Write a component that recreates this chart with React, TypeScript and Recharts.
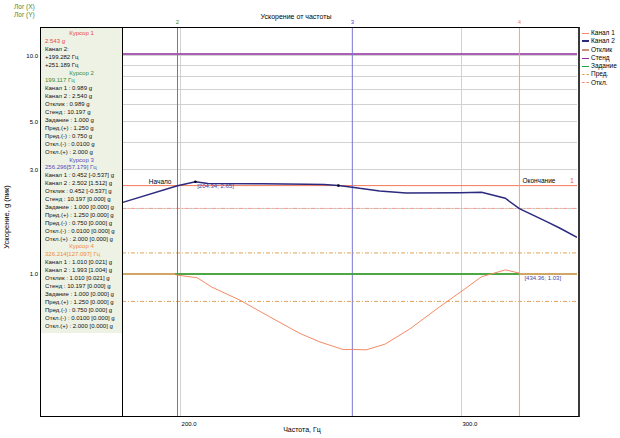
import React from "react";
import {
  ComposedChart, Line, XAxis, YAxis, ReferenceLine, ReferenceDot,
} from "recharts";

// частоты и ускорения
const ch2Freq = [184.0, 199.117, 204.34, 208, 225, 240, 246, 251.189, 256.296, 259.0, 266.6, 277.0, 299.3, 308.9, 319.6, 326.214, 339.3, 345.7, 354.5];
const ch2G = [2.13, 2.54, 2.65, 2.6, 2.59, 2.58, 2.57, 2.543, 2.502, 2.47, 2.4, 2.35, 2.36, 2.37, 2.225, 1.993, 1.738, 1.626, 1.474];

const ch1Freq = [198.4, 199.117, 204.9, 209.1, 217.9, 227.5, 237.6, 244.6, 252.9, 256.296, 261.5, 268.7, 278.4, 290.7, 300.8, 308.8, 319.7, 326.214];
const ch1G = [0.995, 0.989, 0.962, 0.874, 0.76, 0.637, 0.535, 0.489, 0.4515, 0.452, 0.45, 0.478, 0.56, 0.708, 0.845, 0.972, 1.046, 1.01];

const targetFreq = [198.4, 326.214];
const targetG = [1.0, 1.0];

const standG = 10.197;
const responseLevel = 1.0;
const limitG = [1.25, 0.75];
const abortG = [2.0, 0.01];

const cursorFreq = [199.117, 256.296, 326.214];
const cursorNames = ["2", "3", "4"];
const cursor1G = 2.543;

const xTicks = [200, 300];
const yTicks = [1, 3, 5, 10];
const gridX = [200, 300];
const gridY = [2, 3, 4, 5, 6, 7, 8, 9, 10];

const peakPoint = { f: 204.34, g: 2.65, text: "[204.34; 2.65]" };
const crossPoint = { f: 251.189, g: 2.543 };
const endPoint = { f: 326.214, g: 1.01, text: "[434.36; 1.03]" };

const cursorBlocks = [
  {
    title: "Курсор 1", color: "#e8463c",
    head: "2.543 g",
    lines: ["Канал 2:", " +199.282 Гц", " +251.189 Гц"],
  },
  {
    title: "Курсор 2", color: "#2e8b46",
    head: "199.117 Гц",
    lines: ["Канал 1 : 0.989 g", "Канал 2 : 2.540 g", "Отклик : 0.989 g", "Стенд : 10.197 g", "Задание : 1.000 g", "Пред.(+) : 1.250 g", "Пред.(-) : 0.750 g", "Откл.(-) : 0.0100 g", "Откл.(+) : 2.000 g"],
  },
  {
    title: "Курсор 3", color: "#5548c0",
    head: "256.296[57.179] Гц",
    lines: ["Канал 1 : 0.452 [-0.537] g", "Канал 2 : 2.502 [1.512] g", "Отклик : 0.452 [-0.537] g", "Стенд : 10.197 [0.000] g", "Задание : 1.000 [0.000] g", "Пред.(+) : 1.250 [0.000] g", "Пред.(-) : 0.750 [0.000] g", "Откл.(-) : 0.0100 [0.000] g", "Откл.(+) : 2.000 [0.000] g"],
  },
  {
    title: "Курсор 4", color: "#f08a3c",
    head: "326.214[127.097] Гц",
    lines: ["Канал 1 : 1.010 [0.021] g", "Канал 2 : 1.993 [1.004] g", "Отклик : 1.010 [0.021] g", "Стенд : 10.197 [0.000] g", "Задание : 1.000 [0.000] g", "Пред.(+) : 1.250 [0.000] g", "Пред.(-) : 0.750 [0.000] g", "Откл.(-) : 0.0100 [0.000] g", "Откл.(+) : 2.000 [0.000] g"],
  },
];

const legendItems = [
  { name: "Канал 1", color: "#f48a66", width: 1, dash: false },
  { name: "Канал 2", color: "#2b2a7e", width: 2, dash: false },
  { name: "Отклик", color: "#c8907c", width: 2, dash: false },
  { name: "Стенд", color: "#8e2b9c", width: 1.5, dash: false },
  { name: "Задание", color: "#22a83a", width: 1.5, dash: false },
  { name: "Пред.", color: "#e0a458", width: 1, dash: true },
  { name: "Откл.", color: "#f49070", width: 1, dash: true },
];

const ch2Data = ch2Freq.map((f, i) => ({ f, g: ch2G[i] }));
const ch1Data = ch1Freq.map((f, i) => ({ f, g: ch1G[i] }));
const targetData = targetFreq.map((f, i) => ({ f, g: targetG[i] }));

const FONT = "'Liberation Sans', Arial, sans-serif";
const cursorColors = ["#4a9a5a", "#7b78d0", "#f4a080"];
const cursorLabelColors = ["#2e8b46", "#5548c0", "#f08a3c"];

const XTick = (props: any) => {
  const { x, y, payload } = props;
  return (
    <text x={x + 1} y={y + 10} fontSize={6} fontFamily={FONT} fill="#000" textAnchor="start">
      {payload.value.toFixed(1)}
    </text>
  );
};

const App = () => {
  return (
    <div style={{ position: "absolute", left: 0, top: 0, width: 620, height: 438, background: "#fff", fontFamily: FONT }}>
      <div style={{ position: "absolute", left: 0, top: 0 }}>
        <ComposedChart width={620} height={438} margin={{ top: 27, right: 43, bottom: 2, left: 11 }}>
          <XAxis
            type="number" dataKey="f" scale="log" domain={[163.5, 354.5]} allowDataOverflow
            ticks={xTicks} tick={<XTick />} tickLine={false} axisLine={false} height={20}
            tickSize={0} tickMargin={0}
          />
          <YAxis
            type="number" dataKey="g" scale="log" domain={[0.224, 13.54]} allowDataOverflow
            ticks={yTicks} tickFormatter={(v: number) => v.toFixed(1)} tickLine={false} axisLine={false}
            width={30} tickSize={0} tickMargin={3}
            tick={{ fontSize: 6, fill: "#000", fontFamily: FONT }}
          />
          {gridY.map((v) => (
            <ReferenceLine key={"gy" + v} y={v} stroke="#d2d2d2" strokeWidth={1} shapeRendering="crispEdges" />
          ))}
          {gridX.map((v) => (
            <ReferenceLine key={"gx" + v} x={v} stroke="#d2d2d2" strokeWidth={1} shapeRendering="crispEdges" />
          ))}
          <ReferenceLine y={standG} stroke="#8e2b9c" strokeWidth={1.5} />
          {limitG.map((v) => (
            <ReferenceLine key={"l" + v} y={v} stroke="#e0a458" strokeWidth={1} strokeDasharray="4 2 1 2" />
          ))}
          {abortG.map((v) => (
            <ReferenceLine key={"a" + v} y={v} stroke="#f4a088" strokeWidth={1} strokeDasharray="4 2 1 2" />
          ))}
          <ReferenceLine y={responseLevel} stroke="#c08a30" strokeWidth={1.5} />
          <ReferenceLine
            y={cursor1G} stroke="#f47a58" strokeWidth={1}
            label={(p: any) => (
              <text x={p.viewBox.x + p.viewBox.width - 3} y={p.viewBox.y - 3} fontSize={7} fontFamily={FONT} fill="#f05a30" textAnchor="end">1</text>
            )}
          />
          {cursorFreq.map((f, i) => (
            <ReferenceLine
              key={"c" + i} x={f} stroke={cursorColors[i]} strokeWidth={1}
              label={(p: any) => (
                <text x={p.viewBox.x} y={p.viewBox.y - 3} fontSize={6} fontFamily={FONT} fill={cursorLabelColors[i]} textAnchor="middle">{cursorNames[i]}</text>
              )}
            />
          ))}
          <Line data={targetData} dataKey="g" type="linear" stroke="#22a83a" strokeWidth={1.5} dot={false} isAnimationActive={false} />
          <Line data={ch1Data} dataKey="g" type="linear" stroke="#f48a66" strokeWidth={1} dot={false} isAnimationActive={false} />
          <Line data={ch2Data} dataKey="g" type="linear" stroke="#2b2a7e" strokeWidth={1.5} dot={false} isAnimationActive={false} />
          <ReferenceDot
            x={cursorFreq[0]} y={cursor1G} r={0} stroke="none"
            label={(p: any) => (
              <text x={p.viewBox.x - 6} y={p.viewBox.y - 2} fontSize={6.5} fontFamily={FONT} fill="#000" textAnchor="end">Начало</text>
            )}
          />
          <ReferenceDot
            x={cursorFreq[2]} y={cursor1G} r={0} stroke="none"
            label={(p: any) => (
              <text x={p.viewBox.x + 3} y={p.viewBox.y - 3} fontSize={6.5} fontFamily={FONT} fill="#000" textAnchor="start">Окончание</text>
            )}
          />
          <ReferenceDot
            x={peakPoint.f} y={peakPoint.g} r={1.3} fill="#000" stroke="none"
            label={(p: any) => (
              <text x={p.viewBox.x + 3} y={p.viewBox.y + 8} fontSize={6} fontFamily={FONT} fill="#4a46a0" textAnchor="start">{peakPoint.text}</text>
            )}
          />
          <ReferenceDot x={crossPoint.f} y={crossPoint.g} r={1.3} fill="#000" stroke="none" />
          <ReferenceDot
            x={endPoint.f} y={endPoint.g} r={0} stroke="none"
            label={(p: any) => (
              <text x={p.viewBox.x + 5} y={p.viewBox.y + 6.5} fontSize={6} fontFamily={FONT} fill="#4a46a0" textAnchor="start">{endPoint.text}</text>
            )}
          />
        </ComposedChart>
      </div>

      {/* рамка области графика */}
      <div style={{ position: "absolute", left: 122, top: 27, width: 455, height: 388, borderTop: "1px solid #000", borderBottom: "1.5px solid #000", borderRight: "2.5px solid #3a3a3a", borderLeft: "1.5px solid #000" }} />

      {/* панель курсоров */}
      <div style={{ position: "absolute", left: 40, top: 27, width: 81, height: 388, background: "#fff", borderLeft: "1.5px solid #000", borderTop: "1px solid #000", borderBottom: "1.5px solid #000" }}>
        <div style={{ background: "#eef2e4", height: 303, paddingTop: 2, fontSize: 6, lineHeight: "7.9px", color: "#111", whiteSpace: "nowrap", overflow: "hidden" }}>
          {cursorBlocks.map((b) => (
            <div key={b.title}>
              <div style={{ color: b.color, textAlign: "center" }}>{b.title}</div>
              <div style={{ color: b.color, paddingLeft: 4 }}>{b.head}</div>
              {b.lines.map((l, j) => (
                <div key={j} style={{ paddingLeft: 4 }}>{l}</div>
              ))}
            </div>
          ))}
        </div>
      </div>

      {/* легенда */}
      <div style={{ position: "absolute", left: 582, top: 29, fontSize: 6.5, lineHeight: "8.3px", color: "#000", whiteSpace: "nowrap" }}>
        {legendItems.map((it) => (
          <div key={it.name} style={{ display: "flex", alignItems: "center" }}>
            <span style={{ display: "inline-block", width: 7, marginRight: 2, borderTop: `${it.width}px ${it.dash ? "dashed" : "solid"} ${it.color}` }} />
            <span>{it.name}</span>
          </div>
        ))}
      </div>

      {/* подписи */}
      <svg width={620} height={438} style={{ position: "absolute", left: 0, top: 0, pointerEvents: "none" }}>
        <text x={14} y={9} fontSize={6.5} fontFamily={FONT} fill="#3a8a3a">Лог (X)</text>
        <text x={14} y={17} fontSize={6.5} fontFamily={FONT} fill="#3a8a3a">Лог (Y)</text>
        <text x={296} y={19} fontSize={7} fontFamily={FONT} fill="#000" textAnchor="middle" fontWeight={500}>Ускорение от частоты</text>
        <text x={302} y={432} fontSize={7} fontFamily={FONT} fill="#000" textAnchor="middle">Частота, Гц</text>
        <text x={9} y={217} fontSize={7.5} fontFamily={FONT} fill="#000" textAnchor="middle" transform="rotate(-90 9 217)">Ускорение, g (пик)</text>
      </svg>
    </div>
  );
};

export default App;
